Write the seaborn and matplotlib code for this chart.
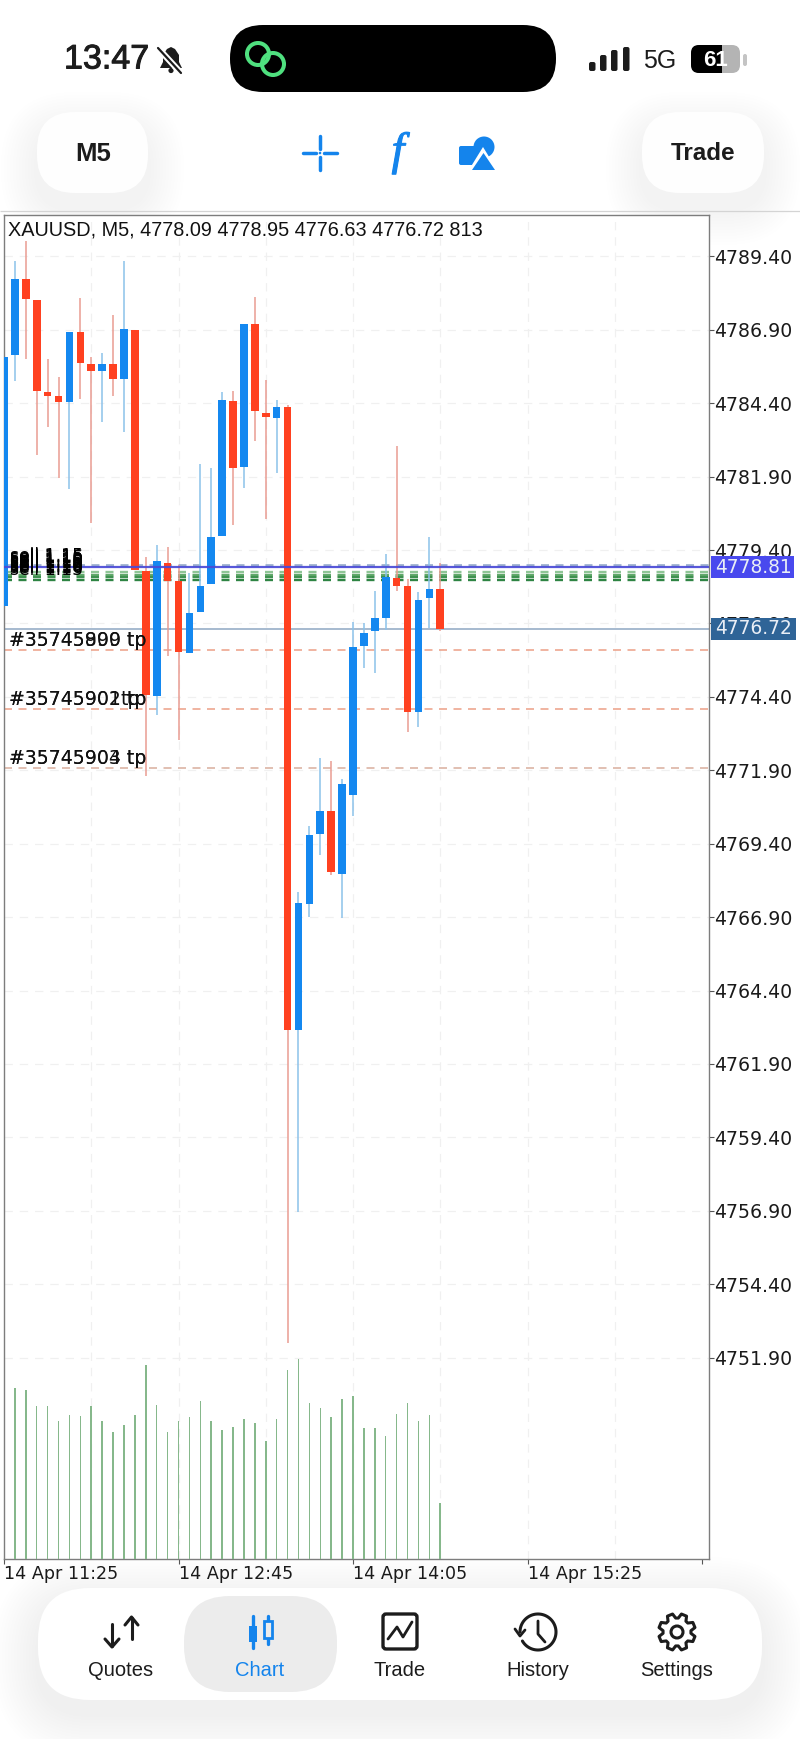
"""
Phone screenshot of a XAUUSD M5 candle chart with the app chrome around it.
"""

import matplotlib
matplotlib.use("Agg")
import matplotlib.patheffects as pe
import matplotlib.pyplot as plt
import numpy as np
import seaborn as sns
from matplotlib.patches import Circle, FancyBboxPatch, Polygon, Rectangle

# ── Data ──────────────────────────────────────────────────────────────────────
bar_index = list(range(-1, 40))
opens = [4777.50, 4786.03, 4788.63, 4787.93, 4784.77, 4784.63, 4784.44, 4786.84, 4785.75, 4785.51,
         4785.75, 4785.22, 4786.90, 4778.67, 4774.44, 4778.96, 4778.33, 4775.89, 4777.30, 4778.23,
         4779.89, 4784.49, 4782.24, 4787.11, 4784.08, 4783.90, 4784.26, 4763.07, 4767.36, 4769.73,
         4770.50, 4768.36, 4771.06, 4776.14, 4776.64, 4777.08, 4778.46, 4778.16, 4773.87, 4777.75,
         4778.09]
highs = [4785.99, 4789.26, 4789.93, 4787.93, 4785.92, 4785.31, 4786.84, 4788.00, 4785.99, 4786.11,
         4787.41, 4789.26, 4786.90, 4779.18, 4779.58, 4779.50, 4778.90, 4778.62, 4782.33, 4782.19,
         4784.78, 4784.82, 4787.11, 4788.02, 4785.18, 4784.52, 4784.35, 4767.75, 4769.99, 4772.32,
         4772.22, 4771.61, 4776.95, 4776.92, 4777.99, 4779.27, 4782.96, 4778.41, 4777.96, 4779.84,
         4778.95]
lows = [4777.50, 4785.14, 4785.91, 4782.62, 4783.59, 4781.87, 4781.48, 4784.54, 4780.33, 4783.77,
        4784.63, 4783.41, 4778.71, 4771.69, 4773.78, 4775.80, 4772.94, 4775.89, 4777.30, 4778.23,
        4779.89, 4780.26, 4781.50, 4783.13, 4780.46, 4782.04, 4752.41, 4756.87, 4766.90, 4769.00,
        4768.33, 4766.88, 4770.33, 4775.39, 4775.20, 4776.69, 4777.99, 4773.22, 4773.37, 4776.76,
        4776.63]
closes = [4785.99, 4788.63, 4787.95, 4784.83, 4784.65, 4784.44, 4786.84, 4785.78, 4785.51, 4785.75,
          4785.22, 4786.93, 4778.71, 4774.45, 4779.03, 4778.35, 4775.94, 4777.27, 4778.18, 4779.86,
          4784.51, 4782.20, 4787.11, 4784.12, 4783.92, 4784.28, 4763.07, 4767.39, 4769.70, 4770.53,
          4768.44, 4771.43, 4776.11, 4776.57, 4777.07, 4778.47, 4778.18, 4773.87, 4777.71, 4778.08,
          4776.72]
volume_index = list(range(0, 40))
volumes = [2464, 2440, 2209, 2204, 1993, 2074, 2070, 2204, 1993, 1834,
           1940, 2074, 2801, 2228, 1834, 1993, 2046, 2281, 1993, 1863,
           1911, 2017, 1964, 1699, 2017, 2729, 2888, 2257, 2175, 2046,
           2310, 2358, 1887, 1887, 1781, 2094, 2257, 1993, 2074, 813]

price_ticks = [4789.40, 4786.90, 4784.40, 4781.90, 4779.40, 4776.90, 4774.40, 4771.90,
               4769.40, 4766.90, 4764.40, 4761.90, 4759.40, 4756.90, 4754.40, 4751.90]
time_ticks = [-1, 15, 31, 47, 63]
time_labels = ["14 Apr 11:25", "14 Apr 12:45", "14 Apr 14:05", "14 Apr 15:25", ""]
grid_bars = [7, 15, 23, 31, 39, 47, 55]

header = "XAUUSD, M5, 4778.09 4778.95 4776.63 4776.72 813"
ask_price = 4778.81
bid_price = 4776.72
order_price = 4778.88
sell_prices = [4778.66, 4778.56, 4778.47, 4778.39]
sell_labels = ["sell 1.15", "sell 1.10", "sell 1.16", "sell 1.15", "sell 1.10", "sell 1.15",
               "sell 1.16", "sell 1.15", "sell 1.10", "sell 1.15", "sell 1.16", "sell 1.15"]
sell_offsets = [-5.2, -4.3, -3.4, -2.5, -1.6, -0.7, 0.2, 1.1, 2.0, 2.9, 3.8, 4.7]
tp_prices = [4776.00, 4773.99, 4771.98]
tp_colors = ["#ec9f86", "#ec9f86", "#d9ae9c"]
tp_labels = [["#35745899 tp", "#35745900 tp"],
             ["#35745901 tp", "#35745902 tp"],
             ["#35745903 tp", "#35745904 tp"]]
nav_names = ["Quotes", "Chart", "Trade", "History", "Settings"]
nav_x = [121, 260, 399.5, 538, 677]

RED = "#ff4120"
BLUE = "#1488f0"
RED_WICK = "#e99c92"
BLUE_WICK = "#8cc2ea"
UI_BLUE = "#1484ec"
INK = "#1c1c1c"
SANS = "Liberation Sans"

sns.set_theme(style="white")
plt.rcParams["lines.scale_dashes"] = False
plt.rcParams["lines.solid_capstyle"] = "butt"

W, H = 800, 1739
fig = plt.figure(figsize=(W / 100, H / 100), dpi=100, facecolor="white")

# ── App chrome, drawn in pixel coordinates ────────────────────────────────────
ui = fig.add_axes([0, 0, 1, 1], zorder=0)
ui.set_xlim(0, W)
ui.set_ylim(H, 0)
ui.axis("off")


def rounded(x0, y0, x1, y1, r, color, z=2, **kw):
    patch = FancyBboxPatch((x0, y0), x1 - x0, y1 - y0, boxstyle=f"round,pad=0,rounding_size={r}",
                           fc=color, ec="none", zorder=z, **kw)
    ui.add_patch(patch)
    return patch


def shadow(x0, y0, x1, y1, r, drop=10, spread=36, alpha=0.0035):
    for s in range(spread, 0, -3):
        rounded(x0 - s, y0 - s + drop, x1 + s, y1 + s + drop, r + s, "black", z=1, alpha=alpha)


def stroke(xs, ys, color=INK, lw=2.2, z=4, **kw):
    ui.plot(xs, ys, color=color, lw=lw, zorder=z, solid_capstyle="round", solid_joinstyle="round", **kw)


# status bar
clock = ui.text(64, 60, "13:47", family=SANS, fontsize=24.5, color=INK, va="center", ha="left")
clock.set_path_effects([pe.withStroke(linewidth=0.7, foreground=INK)])
ui.add_patch(Polygon([(160, 68), (163, 62), (163, 55), (167, 49), (171, 47), (175, 49), (179, 55), (179, 62), (182, 68)],
                     fc=INK, ec="none", zorder=3))
ui.add_patch(Circle((171, 70.5), 2.6, fc=INK, ec="none", zorder=3))
stroke([157, 181], [47, 73], color="white", lw=4.5, z=4)
stroke([158, 181], [48, 73], color=INK, lw=1.6, z=5)

rounded(230, 25, 556, 92, 33, "black")
ui.add_patch(Circle((258, 54), 11, fc="none", ec="#4fe07f", lw=2.9, zorder=3))
ui.add_patch(Circle((273, 64), 11, fc="none", ec="#4fe07f", lw=2.9, zorder=3))

for bx, top in zip([589, 600, 611, 623], [62, 55, 50, 47]):
    rounded(bx, top, bx + 6.5, 71, 2, INK)
ui.text(660, 61, "5G", family=SANS, fontsize=18, color=INK, va="center", ha="center")
rounded(691, 45, 740, 73, 8, "#b4b4b4")
batt = rounded(691, 45, 740, 73, 8, "black", z=3)
batt.set_clip_path(Rectangle((691, 40), 31, 40, transform=ui.transData))
ui.text(715, 60, "61", family=SANS, fontsize=16, fontweight="bold", color="white", va="center", ha="center", zorder=5)
rounded(743, 54, 747, 66, 2, "#c4c4c4")

# toolbar
shadow(37, 112, 148, 193, 38, drop=16, alpha=0.003)
rounded(37, 112, 148, 193, 38, "#fefefe")
shadow(642, 112, 764, 193, 38, drop=16, alpha=0.003)
rounded(642, 112, 764, 193, 38, "#fefefe")
ui.text(93, 154, "M5", family=SANS, fontsize=18.5, fontweight="bold", color=INK, va="center", ha="center", zorder=5)
ui.text(703, 154, "Trade", family=SANS, fontsize=17.5, fontweight="bold", color=INK, va="center", ha="center", zorder=5)

stroke([303, 316], [153, 153], color=UI_BLUE, lw=2.5)
stroke([324, 337], [153, 153], color=UI_BLUE, lw=2.5)
stroke([320, 320], [136, 149], color=UI_BLUE, lw=2.5)
stroke([320, 320], [157, 170], color=UI_BLUE, lw=2.5)
ui.add_patch(Circle((320, 153), 1.3, fc=UI_BLUE, ec="none", zorder=4))
func = ui.text(398, 153, "f", family="Liberation Serif", style="italic", fontsize=33, color=UI_BLUE,
               va="center", ha="center", zorder=5)
func.set_path_effects([pe.withStroke(linewidth=0.8, foreground=UI_BLUE)])
rounded(459, 146, 479, 165, 2, UI_BLUE, z=3)
ui.add_patch(Circle((484, 147), 10.5, fc=UI_BLUE, ec="none", zorder=3))
ui.add_patch(Polygon([(483, 147), (499, 173), (467, 173)], fc="white", ec="none", zorder=4))
ui.add_patch(Polygon([(483.5, 153), (495, 170), (472, 170)], fc=UI_BLUE, ec="none", zorder=5))

ui.plot([0, W], [211, 211], color="#d4d4d4", lw=0.9, zorder=2)

# bottom navigation
shadow(38, 1588, 762, 1700, 52, drop=14, spread=45)
rounded(38, 1588, 762, 1700, 52, "white", z=2)
rounded(184, 1596, 337, 1692, 46, "#ececec", z=3)
for name, nx in zip(nav_names, nav_x):
    ui.text(nx, 1670, name, family=SANS, fontsize=14.5, color=UI_BLUE if name == "Chart" else INK,
            va="center", ha="center", zorder=5)

# quotes
stroke([131.5, 131.5], [1618, 1639])
stroke([125, 131.5, 138], [1625, 1617, 1625])
stroke([112, 112], [1624, 1646])
stroke([105, 112, 119], [1639, 1647, 1639])
# chart
stroke([252.5, 252.5], [1616, 1648], color=UI_BLUE, lw=2.4)
ui.add_patch(Rectangle((248.5, 1626), 8, 16, fc=UI_BLUE, ec="none", zorder=4))
stroke([268, 268], [1616, 1644], color=UI_BLUE, lw=2.4)
ui.add_patch(Rectangle((264, 1621), 8, 17, fc="#ececec", ec=UI_BLUE, lw=2.0, zorder=5))
# trade
trade_box = FancyBboxPatch((383, 1614), 34, 35, boxstyle="round,pad=0,rounding_size=3",
                           fc="none", ec=INK, lw=2.4, zorder=4)
ui.add_patch(trade_box)
stroke([388, 397, 403, 412], [1639, 1627, 1637, 1622], lw=2.0)
# history
t = np.radians(np.linspace(180, -150, 80))
stroke(538 + 18 * np.cos(t), 1632 - 18 * np.sin(t))
stroke([515, 520, 525], [1629, 1636, 1630], lw=2.0)
stroke([538, 538, 545], [1621, 1634, 1642], lw=2.0)
# settings
tooth = np.radians(np.arange(8) * 45 - 22.5)
ang = np.ravel(np.column_stack([tooth - 0.30, tooth - 0.15, tooth + 0.15, tooth + 0.30]))
rad = np.tile([14, 18.5, 18.5, 14], 8)
ui.add_patch(Polygon(np.column_stack([677 + rad * np.cos(ang), 1632 + rad * np.sin(ang)]),
                     fc="none", ec=INK, lw=2.2, zorder=4, joinstyle="round"))
ui.add_patch(Circle((677, 1632), 6, fc="none", ec=INK, lw=2.2, zorder=4))

# ── Chart ─────────────────────────────────────────────────────────────────────
ax = fig.add_axes([4 / W, 1 - 1559 / H, 705 / W, 1344 / H], zorder=1, facecolor="white")
ax_vol = ax.twinx()

ax.set_xlim(-1.0, 63.64)
ax.set_ylim(4745.04, 4790.81)
ax_vol.set_ylim(0, 19410)

sns.barplot(x=volume_index, y=volumes, native_scale=True, width=0.14, color="#86b88b",
            saturation=1, linewidth=0, ax=ax_vol)
ax_vol.set_xlim(-1.0, 63.64)
ax_vol.set_ylabel("")
ax_vol.set_yticks([])
ax_vol.tick_params(left=False, right=False, bottom=False, top=False)
ax_vol.grid(False)
ax_vol.patch.set_visible(False)
for sp in ax_vol.spines.values():
    sp.set_visible(False)

# grid
for v in price_ticks:
    ax.axhline(v, color="#f0f0f0", lw=0.9, ls=(0, (6, 5)), zorder=0.5)
for g in grid_bars:
    ax.axvline(g, color="#f0f0f0", lw=0.9, ls=(0, (6, 5)), zorder=0.5)

# order levels under the candles
dash = (0, (5.76, 4.68))
ax.axhline(order_price, color="#9fb2cf", lw=2.0, ls=dash, zorder=1)
for v, shade in zip(sell_prices, ["#8fc596", "#62a96c", "#3f9150", "#2e8443"]):
    ax.axhline(v, color=shade, lw=1.7, ls=dash, zorder=1)
for v, c in zip(tp_prices, tp_colors):
    ax.axhline(v, color=c, lw=1.1, ls=dash, zorder=1)
ax.axhline(bid_price, color="#8ea7c2", lw=1.1, zorder=1)

# candles
ups = np.array(closes) >= np.array(opens)
ax.vlines(bar_index, lows, highs, colors=[BLUE_WICK if u else RED_WICK for u in ups], lw=1.1, zorder=2)
ax.bar(bar_index, np.abs(np.array(closes) - np.array(opens)), bottom=np.minimum(opens, closes), width=0.70,
       color=[BLUE if u else RED for u in ups], linewidth=0, zorder=3)

ax.axhline(ask_price, color="#4a4ad6", lw=1.6, alpha=0.92, zorder=4)

# axes furniture
ax.set_yticks(price_ticks)
ax.set_yticklabels([f"{v:.2f}" for v in price_ticks], fontsize=13.6, color="#1a1a1a")
ax.yaxis.tick_right()
ax.set_xticks(time_ticks)
ax.set_xticklabels(time_labels, fontsize=12.6, ha="left", color="#1a1a1a")
ax.tick_params(axis="y", right=True, length=3.5, width=0.8, color="#555555", pad=0.3)
ax.tick_params(axis="x", bottom=True, length=3.5, width=0.8, color="#555555", pad=0.8)
for sp in ax.spines.values():
    sp.set_visible(True)
    sp.set_color("#7d7d7d")
    sp.set_linewidth(1.0)

ax.text(0.005, 0.9958, header, transform=ax.transAxes, family=SANS, fontsize=14.3, color="#111111",
        va="top", ha="left", zorder=6)

# trade labels, overlapping like in the terminal
trans = ax.get_yaxis_transform()
for v, pair in zip(tp_prices, tp_labels):
    for label in pair:
        ax.annotate(label, xy=(0, v), xycoords=trans, xytext=(3.8, 2.9), textcoords="offset points",
                    fontsize=13.6, color="#111111", va="baseline", ha="left", zorder=6)
ax.annotate("tp", xy=(0, tp_prices[1]), xycoords=trans, xytext=(84, 2.9), textcoords="offset points",
            fontsize=13.6, color="#111111", va="baseline", ha="left", zorder=6)
for label, off in zip(sell_labels, sell_offsets):
    ax.annotate(label, xy=(0, ask_price), xycoords=trans, xytext=(4.5, off), textcoords="offset points",
                fontsize=12.4, color="black", va="baseline", ha="left", zorder=6)

# price flags on the right axis
for v, fc, w in [(ask_price, "#4949ee", 0.1177), (bid_price, "#2f6497", 0.1205)]:
    ax.add_patch(Rectangle((1.003, v - 0.375), w, 0.75, transform=trans, fc=fc, ec="none", clip_on=False, zorder=8))
    ax.text(1.0085, v, f"{v:.2f}", transform=trans, fontsize=13.4, color="#e9eef6", va="center", ha="left",
            clip_on=False, zorder=9)

fig.savefig("out.png", dpi=100, facecolor="white")
